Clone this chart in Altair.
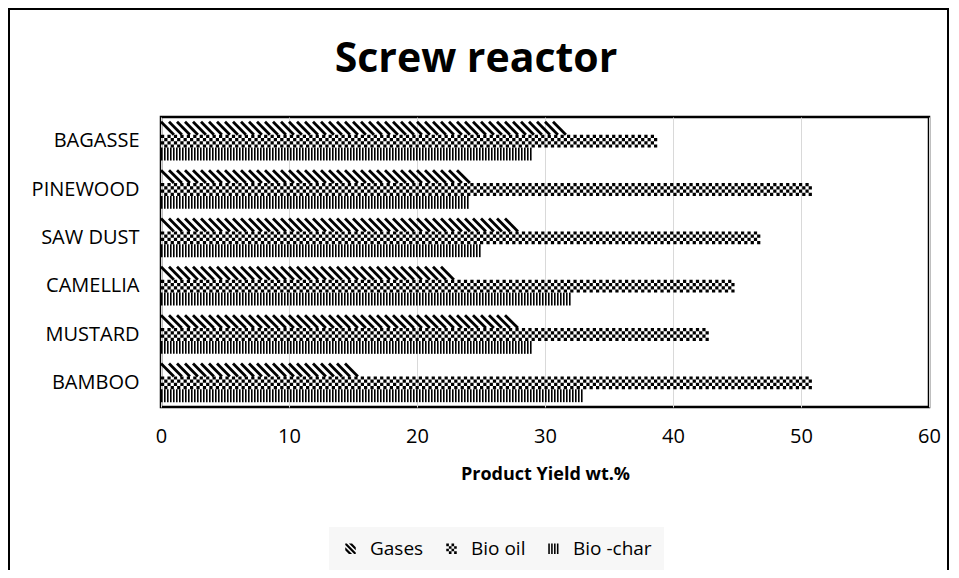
import altair as alt
import pandas as pd

# ---------------- data ----------------
categories = ["BAGASSE", "PINEWOOD", "SAW DUST", "CAMELLIA", "MUSTARD", "BAMBOO"]
series = ["Gases", "Bio oil", "Bio -char"]
gases = [32, 24.5, 28, 23, 28, 16]
bio_oil = [39, 51.2, 47, 45, 43, 51]
bio_char = [29, 24, 25, 32, 29, 33]
x_ticks = [0, 10, 20, 30, 40, 50, 60]
title_text = "Screw reactor"
x_title = "Product Yield wt.%"

rows = []
for s, vals in zip(series, [gases, bio_oil, bio_char]):
    for c, v in zip(categories, vals):
        rows.append({"category": c, "series": s, "value": v})
df = pd.DataFrame(rows)

# ---------------- layout / style ----------------
FONT = "Open Sans"
W, H = 768, 290
PAD_IN, PAD_OUT = 0.2, 0.1
PX = W / (x_ticks[-1] - x_ticks[0])                      # pixels per unit
STEP = H / (len(categories) - PAD_IN + 2 * PAD_OUT)
SUB = STEP * (1 - PAD_IN) / len(series)                   # one bar's thickness
SYM = SUB ** 2                                            # symbol size -> SUB px square
HALF = (SUB / 2) / PX                                     # half symbol width in data units

x_axis = alt.Axis(values=x_ticks, grid=True, gridColor="#d9d9d9", gridWidth=1,
                  domain=False, ticks=False, labelFont=FONT, labelFontSize=20,
                  labelColor="black", labelPadding=19, labelFlush=False,
                  title=x_title, titleFont=FONT, titleFontSize=18,
                  titleFontWeight="bold", titleColor="black", titlePadding=19)
y_axis = alt.Axis(title=None, domain=False, ticks=False, grid=False,
                  labelFont=FONT, labelFontSize=20, labelColor="black",
                  labelPadding=22)

x_scale = alt.Scale(domain=[x_ticks[0], x_ticks[-1]], nice=False)
y_enc = alt.Y("category:N", sort=categories,
              scale=alt.Scale(domain=categories, paddingInner=PAD_IN, paddingOuter=PAD_OUT),
              axis=y_axis)
yoff_enc = alt.YOffset("series:N", sort=series,
                       scale=alt.Scale(type="point", domain=series, padding=0.5))


def xenc(field):
    return alt.X(field, type="quantitative", scale=x_scale, axis=x_axis)


base = alt.Chart(df)

# Gases: wide downward diagonal stripes
gas_pitch = 8 / PX
gas_layer = (
    base.transform_filter("datum.series == 'Gases'")
    .transform_calculate(s=f"sequence({HALF}, datum.value - {HALF} + 0.001, {gas_pitch})")
    .transform_flatten(["s"])
    .mark_point(shape="M-1,-1L1,1", filled=False, color="black", strokeWidth=2.8,
                size=SYM, opacity=1)
    .encode(x=xenc("s"), y=y_enc, yOffset=yoff_enc)
)

# Bio oil: checkerboard
checker_path = ("M-0.5,-1L0,-1L0,-0.5L-0.5,-0.5Z M-0.5,0L0,0L0,0.5L-0.5,0.5Z "
                "M0,-0.5L0.5,-0.5L0.5,0L0,0Z M0,0.5L0.5,0.5L0.5,1L0,1Z")
oil_step = (SUB / 2) / PX
oil_layer = (
    base.transform_filter("datum.series == 'Bio oil'")
    .transform_calculate(s=f"sequence({oil_step/2}, datum.value - {oil_step/2} + 0.001, {oil_step})")
    .transform_flatten(["s"])
    .mark_point(shape=checker_path, filled=True, color="black", strokeWidth=0,
                size=SYM, opacity=1)
    .encode(x=xenc("s"), y=y_enc, yOffset=yoff_enc)
)

# Bio char: vertical lines
char_step = 3 / PX
char_layer = (
    base.transform_filter("datum.series == 'Bio -char'")
    .transform_calculate(s=f"sequence({0.8/PX}, datum.value, {char_step})")
    .transform_flatten(["s"])
    .mark_point(shape="M0,-1L0,1", filled=False, color="black", strokeWidth=1.6,
                size=SYM, opacity=1)
    .encode(x=xenc("s"), y=y_enc, yOffset=yoff_enc)
)

# legend swatches
gas_swatch = ("M-1,-1L-0.7,-1L1,0.7L1,1L0.7,1L-1,-0.7Z "
              "M-1,-0.3L0.3,1L-0.3,1L-1,0.3Z "
              "M-0.3,-1L0.3,-1L1,-0.3L1,0.3Z")
oil_swatch = " ".join(
    f"M{-1 + 0.5 * c},{-1 + 0.5 * r}L{-0.5 + 0.5 * c},{-1 + 0.5 * r}"
    f"L{-0.5 + 0.5 * c},{-0.5 + 0.5 * r}L{-1 + 0.5 * c},{-0.5 + 0.5 * r}Z"
    for r in range(4) for c in range(4) if (r + c) % 2 == 0)
char_swatch = " ".join(
    f"M{x0},-1L{x0 + 0.3},-1L{x0 + 0.3},1L{x0},1Z" for x0 in [-1, -0.45, 0.1, 0.65])

legend_layer = (
    base.transform_filter("datum.value < 0")
    .mark_point(filled=True, color="black", opacity=1)
    .encode(
        x=xenc("value"), y=y_enc,
        shape=alt.Shape("series:N",
                        scale=alt.Scale(domain=series, range=[gas_swatch, oil_swatch, char_swatch]),
                        legend=alt.Legend(title=None, orient="none", legendX=168, legendY=410,
                                          direction="horizontal", columns=3,
                                          fillColor="#f7f7f7", padding=12,
                                          labelFont=FONT, labelFontSize=19, labelColor="black",
                                          symbolSize=110, symbolFillColor="black",
                                          symbolStrokeWidth=0, symbolOpacity=1,
                                          labelOffset=10, columnPadding=18)),
    )
)

# outer frame and chart title
frame_layer = alt.Chart(pd.DataFrame({"f": [0]})).mark_rect(
    fillOpacity=0, stroke="black", strokeWidth=2
).encode(x=alt.value(-152), x2=alt.value(787), y=alt.value(-108), y2=alt.value(480))

title_layer = alt.Chart(pd.DataFrame({"t": [title_text]})).mark_text(
    font=FONT, fontSize=41, fontWeight="bold", align="center", baseline="alphabetic",
    color="black"
).encode(text="t:N", x=alt.value(315), y=alt.value(-45))

chart = (
    alt.layer(frame_layer, title_layer, gas_layer, oil_layer, char_layer, legend_layer)
    .properties(width=W, height=H,
                padding={"left": 153, "top": 109, "right": 20, "bottom": 163},
                autosize=alt.AutoSizeParams(type="none"),
                background="white")
    .configure_view(stroke="black", strokeWidth=2.5)
)

chart.save("out.html", embed_options={"renderer": "svg", "actions": False})
